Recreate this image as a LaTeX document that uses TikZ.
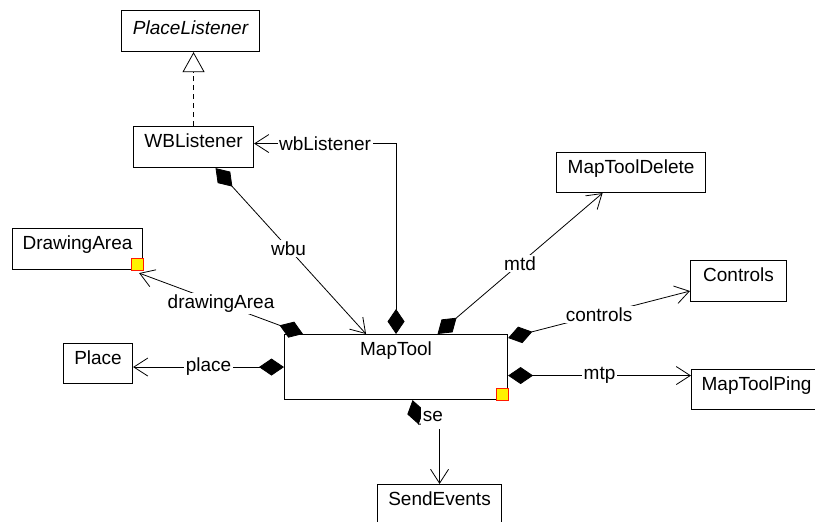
\documentclass[tikz,border=0pt]{standalone}
\usepackage{fontspec}
\setmainfont{Liberation Sans}
\usetikzlibrary{arrows.meta}

\begin{document}
\begin{tikzpicture}[x=1pt, y=-1pt,
  every node/.style={font=\fontsize{19}{22}\selectfont},
  cls/.style={draw, line width=1.1pt, rectangle, anchor=north west,
    inner sep=0pt, text height=14pt},
  rel/.style={line width=0.8pt,
    {Diamond[length=25pt,width=17pt]}-{Straight Barb[length=14pt,width=18pt]}},
  lbl/.style={fill=white, inner sep=1.5pt},
  marker/.style={draw=red!80!orange, fill=yellow, line width=0.8pt}]

\useasboundingbox (0,0) rectangle (815,522);

% classes
\node[cls, minimum width=138pt, minimum height=41pt, text depth=8pt,
      font=\fontsize{19}{22}\selectfont\itshape] (pl) at (121,10) {PlaceListener};
\node[cls, minimum width=120pt, minimum height=41pt, text depth=13pt] (wbl) at (133,126) {WBListener};
\node[cls, minimum width=149pt, minimum height=40pt, text depth=12pt] (mtdel) at (556,152) {MapToolDelete};
\node[cls, minimum width=130pt, minimum height=41pt, text depth=13pt] (da) at (12,228) {DrawingArea};
\node[cls, minimum width=96pt, minimum height=41pt, text depth=13pt] (ctl) at (690,260) {Controls};
\node[cls, minimum width=69pt, minimum height=40pt, text depth=12pt] (place) at (63,343) {Place};
\node[cls, minimum width=223pt, minimum height=65pt, text depth=37pt] (mt) at (284,334) {MapTool};
\node[cls, minimum width=130pt, minimum height=40pt, text depth=12pt] (ping) at (691,369) {MapToolPing};
\node[cls, minimum width=124pt, minimum height=60pt, text depth=32pt] (send) at (377,484) {SendEvents};

% corner markers
\draw[marker] (da.south east) rectangle ++(-12,-12);
\draw[marker] (mt.south east) rectangle ++(-12,-12);

% realization
\draw[dash pattern=on 5pt off 4pt, line width=0.8pt,
      -{Triangle[open, length=20pt, width=22pt]}]
  (wbl.north) -- (wbl.north |- pl.south);

% compositions
\draw[rel] (mt.north) |- ([yshift=3.5pt]wbl.east)
  node[lbl, pos=0.75] {wbListener};
\draw[rel] ([xshift=22pt]wbl.south) -- ([xshift=-30pt]mt.north)
  node[lbl, pos=0.485] {wbu};
\draw[rel] ([xshift=19pt]mt.north west) -- ([xshift=-4pt,yshift=-3pt]da.south east)
  node[lbl, pos=0.5] {drawingArea};
\draw[rel] (mt.west) -- (mt.west -| place.east)
  node[lbl, pos=0.5] {place};
\draw[rel] ([xshift=41.5pt]mt.north) -- ([xshift=-28.5pt]mtdel.south)
  node[lbl, pos=0.5] {mtd};
\draw[rel] ([yshift=-4pt]mt.north east) -- ([yshift=-10pt]ctl.west)
  node[lbl, pos=0.5] {controls};
\draw[rel] ([yshift=-8.5pt]mt.east) -- ([yshift=-8.5pt]mt.east -| ping.west)
  node[lbl, pos=0.5] {mtp};
\draw[rel] ([xshift=16.5pt]mt.south) -- ++(6,24) -| (send.north);
\node[fill=white, inner sep=0pt, minimum width=24pt, minimum height=22pt,
      text height=10pt, text depth=3pt] (selbl) at (433,418) {se};

\end{tikzpicture}
\end{document}
